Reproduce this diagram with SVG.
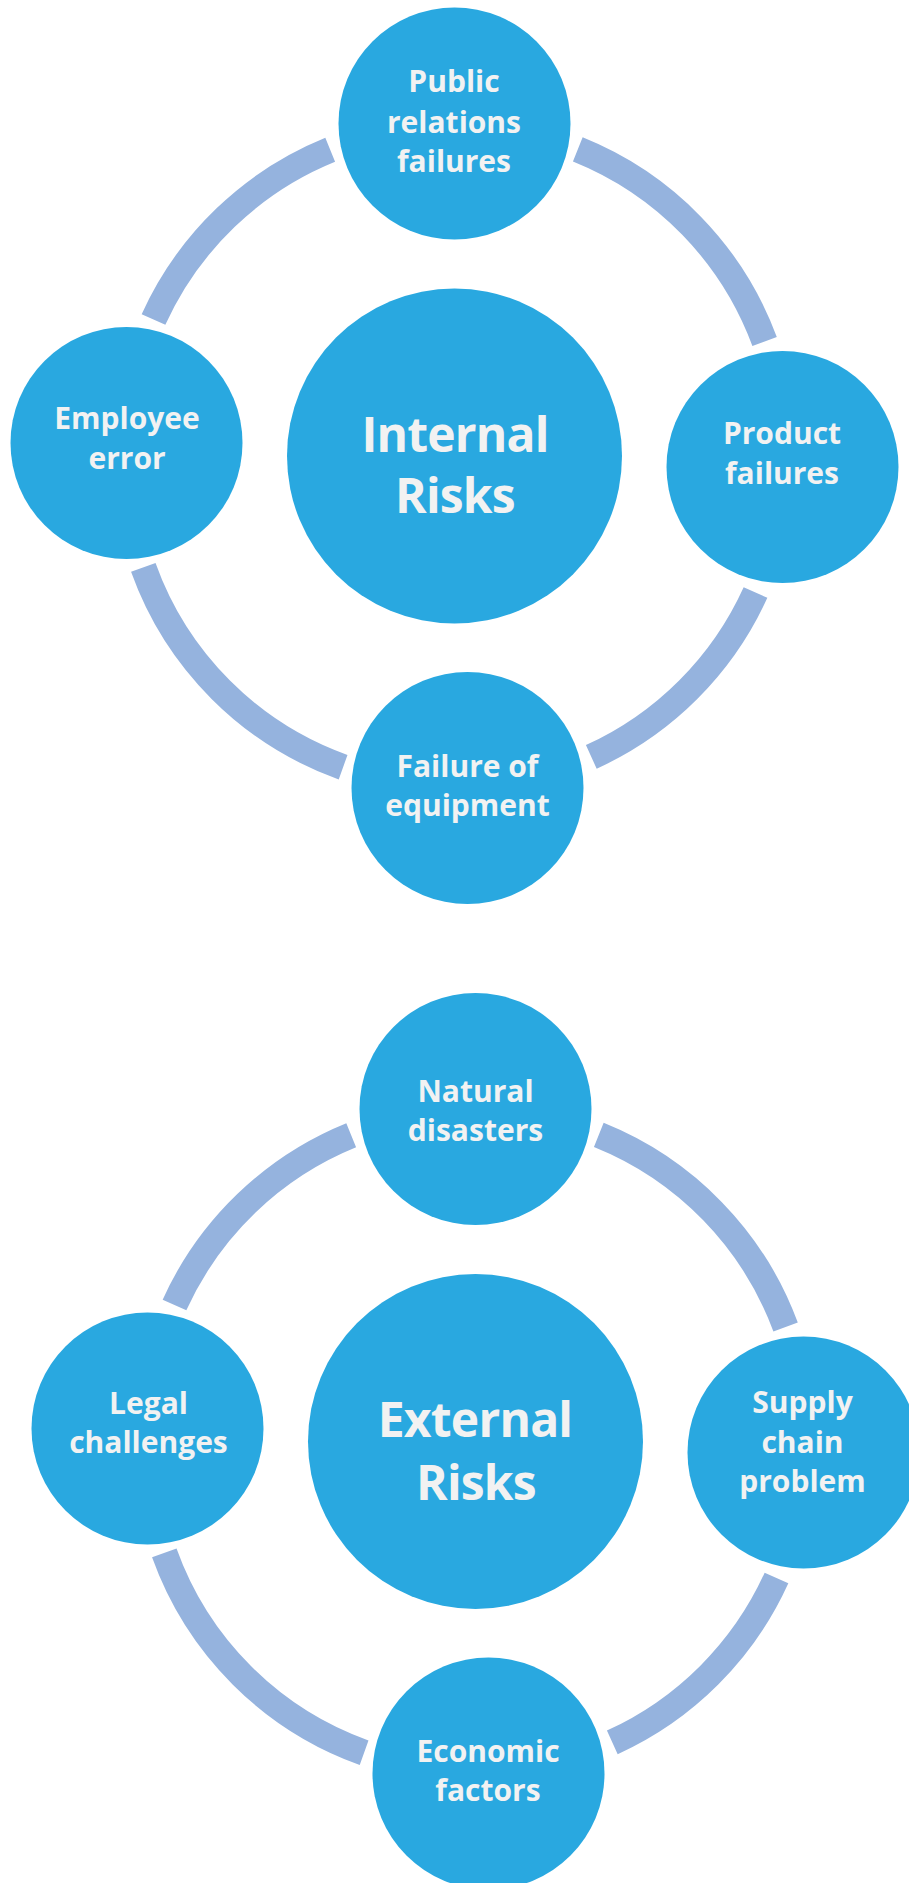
<svg xmlns="http://www.w3.org/2000/svg" width="909" height="1883" viewBox="0 0 909 1883">
  <style>
    .bg { fill: #ffffff; }
    .node { fill: #29a8e0; }
    .arc { fill: none; stroke: #95b3de; stroke-width: 26; stroke-linecap: butt; }
    .lbl { font-family: "Open Sans", "Liberation Sans", sans-serif; font-weight: 700; font-size: 30px; fill: #f2f2f2; text-anchor: middle; }
    .hub-lbl { font-size: 48px; letter-spacing: -0.8px; }
  </style>

  <rect class="bg" x="0" y="0" width="909" height="1883"/>

  <!-- Internal risks cycle: hub at (454.5, 456), ring radius 330.5 -->
  <g id="internal-risks">
    <g id="internal-connectors">
      <path class="arc" d="M577.8 149.4 A330.5 330.5 0 0 1 764.6 341.6"/>
      <path class="arc" d="M755.5 592.5 A330.5 330.5 0 0 1 591.3 756.9"/>
      <path class="arc" d="M343.1 767.2 A330.5 330.5 0 0 1 143.3 567.4"/>
      <path class="arc" d="M153.5 319.5 A330.5 330.5 0 0 1 330.2 149.8"/>
    </g>
    <g id="internal-hub">
      <circle class="node" cx="454.5" cy="456" r="167.5"/>
      <text class="lbl hub-lbl" x="455" y="452">Internal</text>
      <text class="lbl hub-lbl" x="455" y="513">Risks</text>
    </g>
    <g id="public-relations-failures">
      <circle class="node" cx="454.5" cy="123.5" r="116"/>
      <text class="lbl" x="454" y="92">Public</text>
      <text class="lbl" x="454" y="132.5">relations</text>
      <text class="lbl" x="454" y="172">failures</text>
    </g>
    <g id="product-failures">
      <circle class="node" cx="782.5" cy="467" r="116"/>
      <text class="lbl" x="782" y="444">Product</text>
      <text class="lbl" x="782" y="484">failures</text>
    </g>
    <g id="failure-of-equipment">
      <circle class="node" cx="467.5" cy="788" r="116"/>
      <text class="lbl" x="467.5" y="777">Failure of</text>
      <text class="lbl" x="467.5" y="816">equipment</text>
    </g>
    <g id="employee-error">
      <circle class="node" cx="126.5" cy="443" r="116"/>
      <text class="lbl" x="127" y="428.5">Employee</text>
      <text class="lbl" x="127" y="469">error</text>
    </g>
  </g>

  <!-- External risks cycle: same layout, shifted down -->
  <g id="external-risks" transform="translate(21 985.5)">
    <g id="external-connectors">
      <path class="arc" d="M577.8 149.4 A330.5 330.5 0 0 1 764.6 341.6"/>
      <path class="arc" d="M755.5 592.5 A330.5 330.5 0 0 1 591.3 756.9"/>
      <path class="arc" d="M343.1 767.2 A330.5 330.5 0 0 1 143.3 567.4"/>
      <path class="arc" d="M153.5 319.5 A330.5 330.5 0 0 1 330.2 149.8"/>
    </g>
    <g id="external-hub">
      <circle class="node" cx="454.5" cy="456" r="167.5"/>
      <text class="lbl hub-lbl" x="454" y="451.5">External</text>
      <text class="lbl hub-lbl" x="455" y="514">Risks</text>
    </g>
    <g id="natural-disasters">
      <circle class="node" cx="454.5" cy="123.5" r="116"/>
      <text class="lbl" x="454.5" y="116.5">Natural</text>
      <text class="lbl" x="454.5" y="155.5">disasters</text>
    </g>
    <g id="supply-chain-problem">
      <circle class="node" cx="782.5" cy="467" r="116"/>
      <text class="lbl" x="781.5" y="427.5">Supply</text>
      <text class="lbl" x="781.5" y="467.5">chain</text>
      <text class="lbl" x="781.5" y="506.5">problem</text>
    </g>
    <g id="economic-factors">
      <circle class="node" cx="467.5" cy="788" r="116"/>
      <text class="lbl" x="467" y="776.5">Economic</text>
      <text class="lbl" x="467" y="815.5">factors</text>
    </g>
    <g id="legal-challenges">
      <circle class="node" cx="126.5" cy="443" r="116"/>
      <text class="lbl" x="127.5" y="428.5">Legal</text>
      <text class="lbl" x="127.5" y="467.5">challenges</text>
    </g>
  </g>
</svg>
